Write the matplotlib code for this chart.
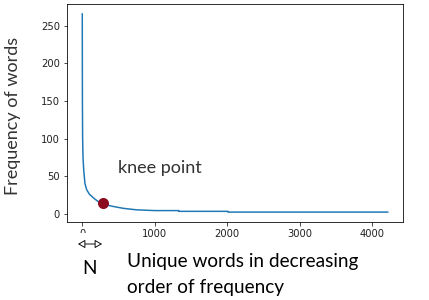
import matplotlib
matplotlib.use("Agg")
import matplotlib.pyplot as plt
from matplotlib.patches import Rectangle, FancyArrowPatch

# Rank-frequency samples
ranks = [0, 2, 5, 10, 20, 37, 60, 97, 165, 234, 290, 400, 566, 750, 1000, 1330, 1331, 2010, 2011, 4216]
freqs = [266, 150, 100, 75, 58, 40, 32, 26, 20, 15, 13, 10, 7, 5, 4, 4, 3, 3, 2, 2]
knee_rank = [290]
knee_freq = [13.8]
xticks = [0, 1000, 2000, 3000, 4000]
yticks = [0, 50, 100, 150, 200, 250]

W, H = 429, 300
DPI = 72
fig = plt.figure(figsize=(W / DPI, H / DPI), dpi=DPI)
ax = fig.add_axes([67 / W, 1 - 222 / H, (403 - 67) / W, (222 - 4) / H])
ax.plot(ranks, freqs, color="#1f77b4", lw=1.5)
ax.plot(knee_rank, knee_freq, "o", color="#8c0a1e", markersize=10, zorder=3)
ax.set_xticks(xticks)
ax.set_yticks(yticks)
ax.tick_params(labelsize=10, colors="#222222")

FONT = "Lato"
def px(x, y):
    return x / W, 1 - y / H

# cover lower part of the "0" tick label
fig.patches.append(Rectangle(px(72, 250), 22 / W, 17 / H, transform=fig.transFigure,
                             facecolor="white", edgecolor="none", zorder=5))
arrow = FancyArrowPatch(px(76, 244), px(104, 244), transform=fig.transFigure,
                        arrowstyle="<|-|>,head_length=6,head_width=3.5", mutation_scale=1,
                        facecolor="white", edgecolor="black", lw=0.9, zorder=6)
fig.patches.append(arrow)

fig.text(*px(89, 269), "N", family=FONT, fontsize=19, ha="center", va="center")
fig.text(*px(127, 262), "Unique words in decreasing", family=FONT, fontsize=19, ha="left", va="center")
fig.text(*px(127, 287), "order of frequency", family=FONT, fontsize=19, ha="left", va="center")
fig.text(*px(118, 168), "knee point", family=FONT, fontsize=18, ha="left", va="center", color="#333333")
fig.text(*px(13, 116), "Frequency of words", family=FONT, fontsize=18, rotation=90,
         ha="center", va="center", color="#333333")

fig.savefig("out.png", dpi=DPI)
